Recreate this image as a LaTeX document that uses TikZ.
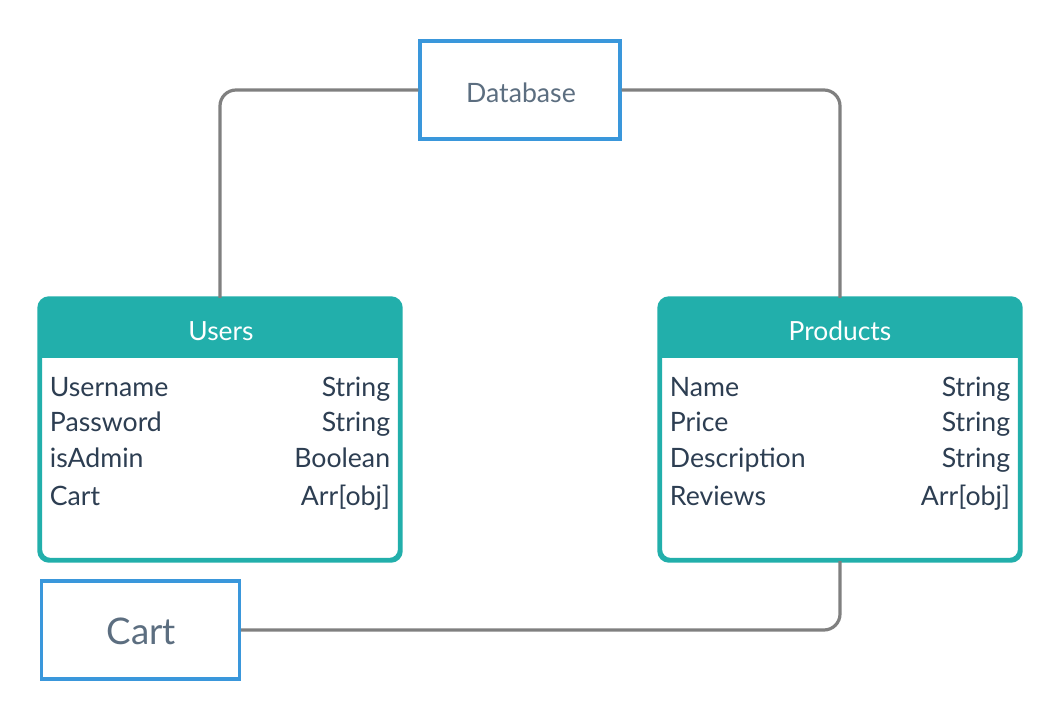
\documentclass[tikz,border=0pt]{standalone}
\usepackage{fontspec}
\setmainfont{Lato}
\usetikzlibrary{calc}

\definecolor{tealbox}{RGB}{34,175,171}
\definecolor{bluebox}{RGB}{58,151,219}
\definecolor{linkgray}{RGB}{128,128,128}
\definecolor{fieldtext}{RGB}{45,62,82}
\definecolor{boxtext}{RGB}{92,110,128}

\tikzset{every picture/.style={line width=0.75pt}}
\tikzset{
  plainbox/.style={draw=bluebox, line width=2.4pt, fill=white, text=boxtext, inner sep=0pt},
  tablebox/.style={draw=tealbox, line width=2.4pt, fill=white, rounded corners=7.5pt, minimum width=269.25pt, minimum height=195pt, inner sep=0pt},
  headtext/.style={text=white, inner sep=0pt, font=\fontsize{19.8pt}{24pt}\selectfont},
  field/.style={text=fieldtext, inner sep=0pt, anchor=base west, font=\fontsize{20pt}{24pt}\selectfont},
  ftype/.style={text=fieldtext, inner sep=0pt, anchor=base east, font=\fontsize{20pt}{24pt}\selectfont},
  link/.style={draw=linkgray, line width=2.4pt, rounded corners=12pt}
}

\begin{document}
\begin{tikzpicture}[x=0.75pt,y=0.75pt,yscale=-1,xscale=1]
\useasboundingbox (0,0) rectangle (1060,720);

%Shape: Database box
\node[plainbox, minimum width=150pt, minimum height=73.5pt] (db) at (520,90) {};
%Shape: Cart box
\node[plainbox, minimum width=148.5pt, minimum height=73.5pt] (cart) at (140.5,630) {};

% Text Node
\node[text=boxtext, inner sep=0pt, font=\fontsize{20pt}{24pt}\selectfont] (dbText) at ($(db.center)+(1,3)$) {Database};
% Text Node
\node[text=boxtext, inner sep=0pt, font=\fontsize{27.5pt}{32pt}\selectfont] (cartText) at ($(cart.center)+(1,1)$) {Cart};

%Shape: Users table
\node[tablebox] (users) at (220,429.5) {};
\fill[tealbox] ($(users.north west)+(0,60)$) [rounded corners=7.5pt] -- (users.north west) -- (users.north east) [sharp corners] -- ($(users.north east)+(0,60)$) -- cycle;
\draw[tealbox, line width=2.4pt, rounded corners=7.5pt] (users.north west) rectangle (users.south east);
%Shape: Products table
\node[tablebox] (products) at (840,429.5) {};
\fill[tealbox] ($(products.north west)+(0,60)$) [rounded corners=7.5pt] -- (products.north west) -- (products.north east) [sharp corners] -- ($(products.north east)+(0,60)$) -- cycle;
\draw[tealbox, line width=2.4pt, rounded corners=7.5pt] (products.north west) rectangle (products.south east);

% Text Node
\node[headtext] (usersHead) at ($(users.north)+(1,33)$) {Users};
% Text Node
\node[headtext] (productsHead) at ($(products.north)+(0,33)$) {Products};

% Text Node
\node[field] (uName) at ($(users.north west)+(10.5,98.5)$) {Username};
\node[ftype] (uNameT) at ($(users.north east)+(-10.5,98.5)$) {String};
% Text Node
\node[field] (uPass) at ($(users.north west)+(10.5,134)$) {Password};
\node[ftype] (uPassT) at ($(users.north east)+(-10.5,134)$) {String};
% Text Node
\node[field] (uAdmin) at ($(users.north west)+(10.5,170)$) {isAdmin};
\node[ftype] (uAdminT) at ($(users.north east)+(-10.5,170)$) {Boolean};
% Text Node
\node[field] (uCart) at ($(users.north west)+(10.5,207.5)$) {Cart};
\node[ftype] (uCartT) at ($(users.north east)+(-10.5,207.5)$) {Arr[obj]};

% Text Node
\node[field] (pName) at ($(products.north west)+(10.5,98.5)$) {Name};
\node[ftype] (pNameT) at ($(products.north east)+(-10.5,98.5)$) {String};
% Text Node
\node[field] (pPrice) at ($(products.north west)+(10.5,134)$) {Price};
\node[ftype] (pPriceT) at ($(products.north east)+(-10.5,134)$) {String};
% Text Node
\node[field] (pDesc) at ($(products.north west)+(10.5,170)$) {Description};
\node[ftype] (pDescT) at ($(products.north east)+(-10.5,170)$) {String};
% Text Node
\node[field] (pRev) at ($(products.north west)+(10.5,207.5)$) {Reviews};
\node[ftype] (pRevT) at ($(products.north east)+(-10.5,207.5)$) {Arr[obj]};

%Straight Lines
\draw[link] (db.west) -| (users.north);
%Straight Lines
\draw[link] (db.east) -| (products.north);
%Straight Lines
\draw[link] (products.south) |- (cart.east);

\end{tikzpicture}
\end{document}
